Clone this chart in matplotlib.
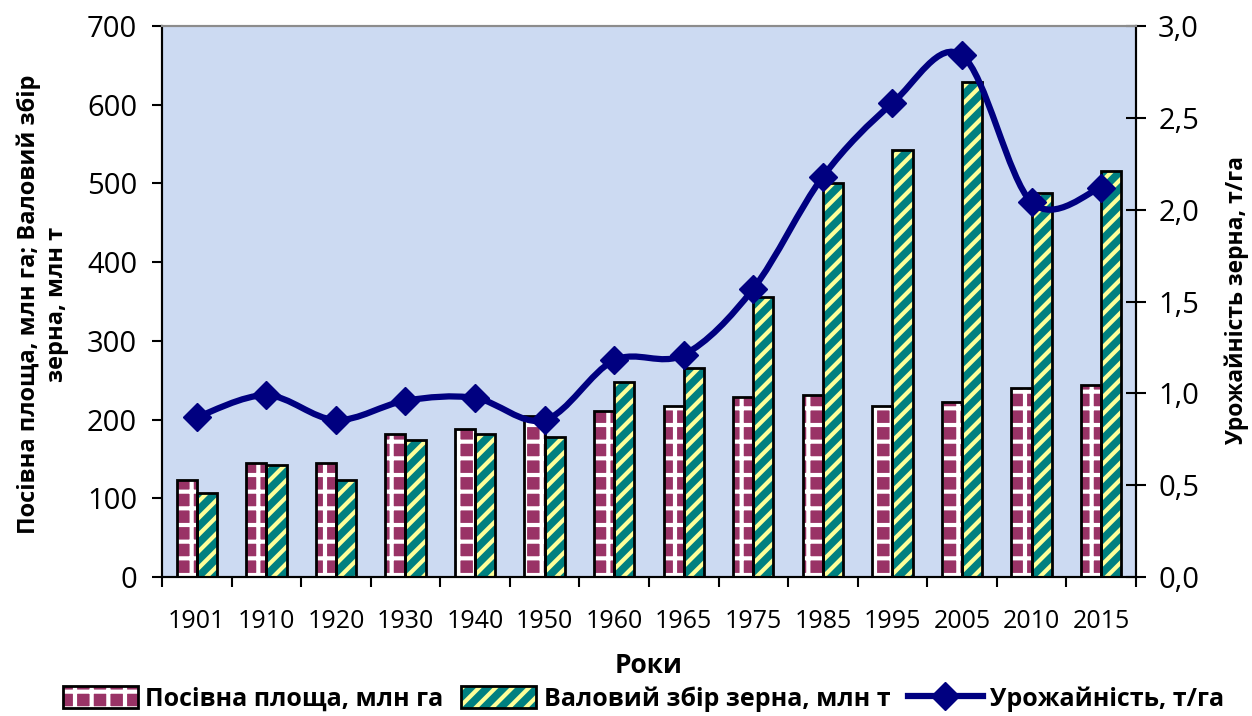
import numpy as np
import matplotlib
matplotlib.use("Agg")
import matplotlib.pyplot as plt
from matplotlib.path import Path
from matplotlib.patches import PathPatch, Patch
from matplotlib.lines import Line2D
from matplotlib.legend_handler import HandlerTuple
from matplotlib.ticker import FuncFormatter, MultipleLocator

# --- data ---
years = ["1901", "1910", "1920", "1930", "1940", "1950", "1960",
         "1965", "1975", "1985", "1995", "2005", "2010", "2015"]
area_mha = [123, 145, 145, 182, 188, 205, 211, 217, 229, 231, 217, 222, 240, 244]
harvest_mt = [107, 142, 123, 174, 182, 178, 248, 265, 356, 500, 542, 629, 488, 516]
yield_tha = [0.87, 0.99, 0.855, 0.96, 0.975, 0.855, 1.18, 1.21, 1.57,
             2.18, 2.58, 2.84, 2.04, 2.12]

AREA_FACE, AREA_HATCH = "#993366", "#ffffff"
HARV_FACE, HARV_HATCH = "#008080", "#ffff99"
LINE_COLOR = "#000080"

plt.rcParams["font.family"] = ["Open Sans", "DejaVu Sans"]
plt.rcParams["hatch.linewidth"] = 3.0


def smooth_path(x, y):
    """Cubic bezier through the points (catmull-rom style, like Excel's smoothed line)."""
    pts = np.column_stack([x, y]).astype(float)
    n = len(pts)
    verts, codes = [pts[0]], [Path.MOVETO]
    for i in range(n - 1):
        p0, p1 = pts[max(i - 1, 0)], pts[i]
        p2, p3 = pts[i + 1], pts[min(i + 2, n - 1)]
        verts += [p1 + (p2 - p0) / 6, p2 - (p3 - p1) / 6, p2]
        codes += [Path.CURVE4] * 3
    return Path(verts, codes)


fig = plt.figure(figsize=(12.52, 7.16), dpi=100)
ax = fig.add_axes([0.1294, 0.1941, 0.7779, 0.7696])
ax.set_facecolor("#ccdaf2")

idx = np.arange(len(years))
w = 0.29

# filled + hatched bars (edge colour = hatch colour), then black outlines on top
ax.bar(idx - w / 2, area_mha, w, facecolor=AREA_FACE, edgecolor=AREA_HATCH,
       hatch="+", linewidth=0, zorder=2)
ax.bar(idx + w / 2, harvest_mt, w, facecolor=HARV_FACE, edgecolor=HARV_HATCH,
       hatch="//", linewidth=0, zorder=2)
ax.bar(idx - w / 2, area_mha, w, fill=False, edgecolor="black", linewidth=2, zorder=3)
ax.bar(idx + w / 2, harvest_mt, w, fill=False, edgecolor="black", linewidth=2, zorder=3)

ax.set_xlim(-0.5, len(years) - 0.5)
ax.set_ylim(0, 700)
ax.yaxis.set_major_locator(MultipleLocator(100))
ax.set_xticks(idx)
ax.set_xticklabels(years)
ax.set_xticks(np.arange(-0.5, len(years)), minor=True)
ax.tick_params(axis="x", which="major", length=0, pad=23, labelsize=18)
ax.tick_params(axis="x", which="minor", length=7, width=1.5, direction="out")
ax.tick_params(axis="y", length=7, width=1.5, direction="out", pad=11, labelsize=21)

ax2 = ax.twinx()
ax2.set_ylim(0, 3.0)
ax2.yaxis.set_major_locator(MultipleLocator(0.5))
ax2.yaxis.set_major_formatter(FuncFormatter(lambda v, _: f"{v:.1f}".replace(".", ",")))
ax2.tick_params(axis="y", length=14, width=1.5, direction="inout", pad=9, labelsize=21)

curve = PathPatch(smooth_path(idx, yield_tha), facecolor="none", edgecolor=LINE_COLOR,
                  linewidth=4.5, transform=ax2.transData, zorder=4, capstyle="round")
ax2.add_patch(curve)
ax2.plot(idx, yield_tha, linestyle="none", marker="D", markersize=14.5,
         color=LINE_COLOR, zorder=5)

for a in (ax, ax2):
    a.spines["top"].set_color("#8c8c8c")
    a.spines["top"].set_linewidth(1.5)
    for s in ("left", "right", "bottom"):
        a.spines[s].set_linewidth(1.5)

fig.text(0.034, 0.575, "Посівна площа, млн га; Валовий збір\nзерна, млн т",
         rotation=90, ha="center", va="center", multialignment="center",
         fontsize=17, fontweight="bold", linespacing=1.25)
fig.text(0.988, 0.58, "Урожайність зерна, т/га", rotation=90,
         ha="center", va="center", fontsize=16.5, fontweight="bold")
fig.text(0.518, 0.07, "Роки", ha="center", va="center",
         fontsize=19, fontweight="bold")

h_area = (Patch(facecolor=AREA_FACE, edgecolor=AREA_HATCH, hatch="+", linewidth=0),
          Patch(fill=False, edgecolor="black", linewidth=2))
h_harv = (Patch(facecolor=HARV_FACE, edgecolor=HARV_HATCH, hatch="//", linewidth=0),
          Patch(fill=False, edgecolor="black", linewidth=2))
h_yield = Line2D([], [], color=LINE_COLOR, linewidth=4.5, marker="D", markersize=14.5)
fig.legend([h_area, h_harv, h_yield],
           ["Посівна площа, млн га", "Валовий збір зерна, млн т", "Урожайність, т/га"],
           handler_map={tuple: HandlerTuple(ndivide=1)},
           loc="center", bbox_to_anchor=(0.514, 0.024), ncol=3, frameon=False,
           prop={"size": 18, "weight": "bold"}, handlelength=3.0, handleheight=1.0,
           handletextpad=0.3, columnspacing=0.7)

fig.savefig("out.png", dpi=100)
